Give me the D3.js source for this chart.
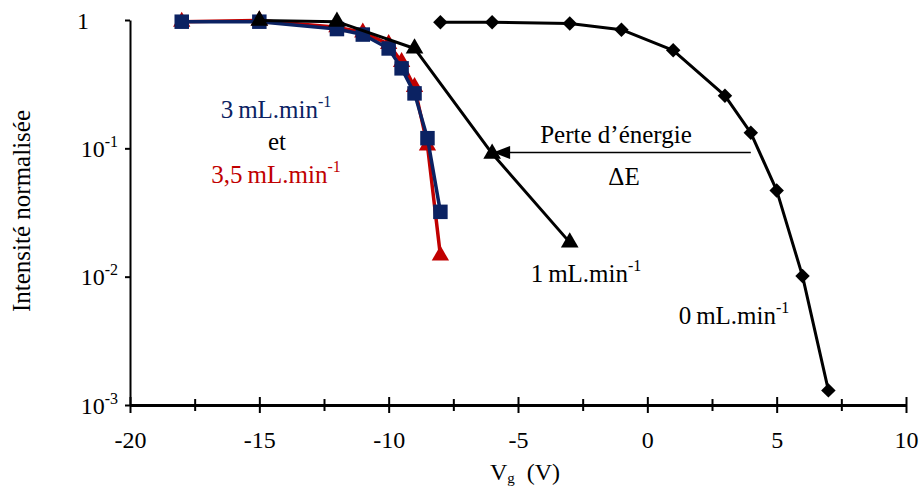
<!DOCTYPE html>
<html><head><meta charset="utf-8">
<script src="https://cdn.jsdelivr.net/npm/d3@7/dist/d3.min.js"></script>
<style>
body{margin:0;background:#fff;}
text{font-family:"Liberation Serif","Times New Roman",serif;}
</style></head>
<body><svg id="c" width="923" height="490" font-family="Liberation Serif, serif"></svg>
<script>
// ---- data ----
const x0 = [-8, -6, -3, -1, 1, 3, 4, 5, 6, 7];
const y0 = [0.96, 0.96, 0.94, 0.84, 0.58, 0.257, 0.132, 0.047, 0.0101, 0.0013];
const x1 = [-15, -12, -9, -6, -3];
const y1 = [0.99, 0.97, 0.6, 0.091, 0.0185];
const x3 = [-18, -15, -12, -11, -10, -9.5, -9, -8.5, -8];
const y3 = [0.97, 0.97, 0.85, 0.77, 0.6, 0.42, 0.268, 0.12, 0.032];
const x35 = [-18, -15, -12, -11, -10, -9.5, -9, -8.5, -8];
const y35 = [0.97, 0.99, 0.88, 0.8, 0.65, 0.47, 0.3, 0.105, 0.0146];
const xMajor = [-20, -15, -10, -5, 0, 5, 10];
const xMinor = [-17.5, -12.5, -7.5, -2.5, 2.5, 7.5];
const yTicks = [1, 0.1, 0.01, 0.001];
const yTickLabels = [["1", ""], ["10", "-1"], ["10", "-2"], ["10", "-3"]];

const svg = d3.select("#c");
const x = d3.scaleLinear().domain([-20, 10]).range([130, 906]);
const y = d3.scaleLog().domain([1e-3, 1]).range([405, 20]);
const NAVY = "#0b2262", RED = "#c00000";

// x axis minor
const gxm = svg.append("g").attr("transform", "translate(0,405)")
  .call(d3.axisBottom(x).tickValues(xMinor).tickSize(6).tickFormat(""));
gxm.select(".domain").remove();
gxm.selectAll("line").attr("y1", -6).attr("stroke", "#000").attr("stroke-width", 2);
// x axis major
const gx = svg.append("g").attr("transform", "translate(0,405)")
  .call(d3.axisBottom(x).tickValues(xMajor).tickSize(8).tickSizeOuter(0).tickFormat(d => String(d)));
gx.attr("font-family", "Liberation Serif, serif");
gx.select(".domain").attr("stroke", "#000").attr("stroke-width", 3);
gx.selectAll("line").attr("y1", -8).attr("stroke", "#000").attr("stroke-width", 2);
gx.selectAll("text").attr("y", 43).attr("dy", 0).attr("font-size", 24)
  .attr("fill", "#000").attr("font-family", "Liberation Serif, serif");

// y axis
const gy = svg.append("g").attr("transform", "translate(130,0)")
  .call(d3.axisLeft(y).tickValues(yTicks).tickSize(5).tickSizeOuter(0).tickFormat(""));
gy.attr("font-family", "Liberation Serif, serif");
gy.select(".domain").attr("stroke", "#000").attr("stroke-width", 2);
gy.selectAll("line").attr("stroke", "#000").attr("stroke-width", 2);
gy.selectAll(".tick").each(function(d, i) {
  const t = d3.select(this).append("text").attr("fill", "#000")
    .attr("font-size", 24).attr("text-anchor", "end")
    .attr("x", i === 0 ? -41 : -12).attr("y", 8);
  t.append("tspan").text(yTickLabels[i][0]);
  if (yTickLabels[i][1]) t.append("tspan").attr("font-size", 16).attr("dy", -10).text(yTickLabels[i][1]);
});

// axis titles
svg.append("text").attr("transform", "translate(30,211) rotate(-90)")
  .attr("text-anchor", "middle").attr("font-size", 25).text("Intensité normalisée");
const xt = svg.append("text").attr("x", 525).attr("y", 480).attr("text-anchor", "middle").attr("font-size", 24);
xt.append("tspan").text("V");
xt.append("tspan").attr("font-size", 15).attr("dy", 3).text("g");
xt.append("tspan").attr("dy", -3).text("\u00a0 (V)");

// series
const line = d3.line().x(d => x(d[0])).y(d => y(d[1]));
function series(xs, ys, color, shape, size, w) {
  const pts = xs.map((v, i) => [v, ys[i]]);
  svg.append("path").datum(pts).attr("d", line).attr("fill", "none")
    .attr("stroke", color).attr("stroke-width", w).attr("stroke-linejoin", "round");
  svg.append("g").selectAll("path").data(pts).join("path")
    .attr("transform", d => `translate(${x(d[0])},${y(d[1])})`)
    .attr("d", d3.symbol().type(shape).size(size)).attr("fill", color);
}
series(x35, y35, RED, d3.symbolTriangle, 130, 3.5);
series(x3, y3, NAVY, d3.symbolSquare, 210, 3.5);
series(x1, y1, "#000", d3.symbolTriangle, 135, 3);
const diamond = { draw(ctx, s) { const r = Math.sqrt(s) / 2; ctx.moveTo(0, -r); ctx.lineTo(r, 0); ctx.lineTo(0, r); ctx.lineTo(-r, 0); ctx.closePath(); } };
series(x0, y0, "#000", diamond, 210, 3);

// arrow annotation
svg.append("line").attr("x1", x(4)).attr("x2", x(-6) + 3).attr("y1", 152.5).attr("y2", 152.5)
  .attr("stroke", "#000").attr("stroke-width", 1.5);
svg.append("path").attr("d", `M${x(-6)+1},152.5 L${x(-6)+18},146 L${x(-6)+18},159 Z`).attr("fill", "#000");

function label(tx, ty, main, sup, color) {
  const t = svg.append("text").attr("x", tx).attr("y", ty).attr("text-anchor", "middle")
    .attr("font-size", 25).attr("fill", color);
  t.append("tspan").text(main);
  if (sup) t.append("tspan").attr("font-size", 16).attr("dy", -11).text(sup);
}
label(616, 143, "Perte d\u2019énergie", "", "#000");
label(624, 185, "\u0394E", "", "#000");
label(276, 118, "3\u2009mL.min", "-1", NAVY);
label(277, 150, "et", "", "#000");
label(276, 183, "3,5\u2009mL.min", "-1", RED);
label(586, 282, "1\u2009mL.min", "-1", "#000");
label(734, 324, "0\u2009mL.min", "-1", "#000");
</script></body></html>
